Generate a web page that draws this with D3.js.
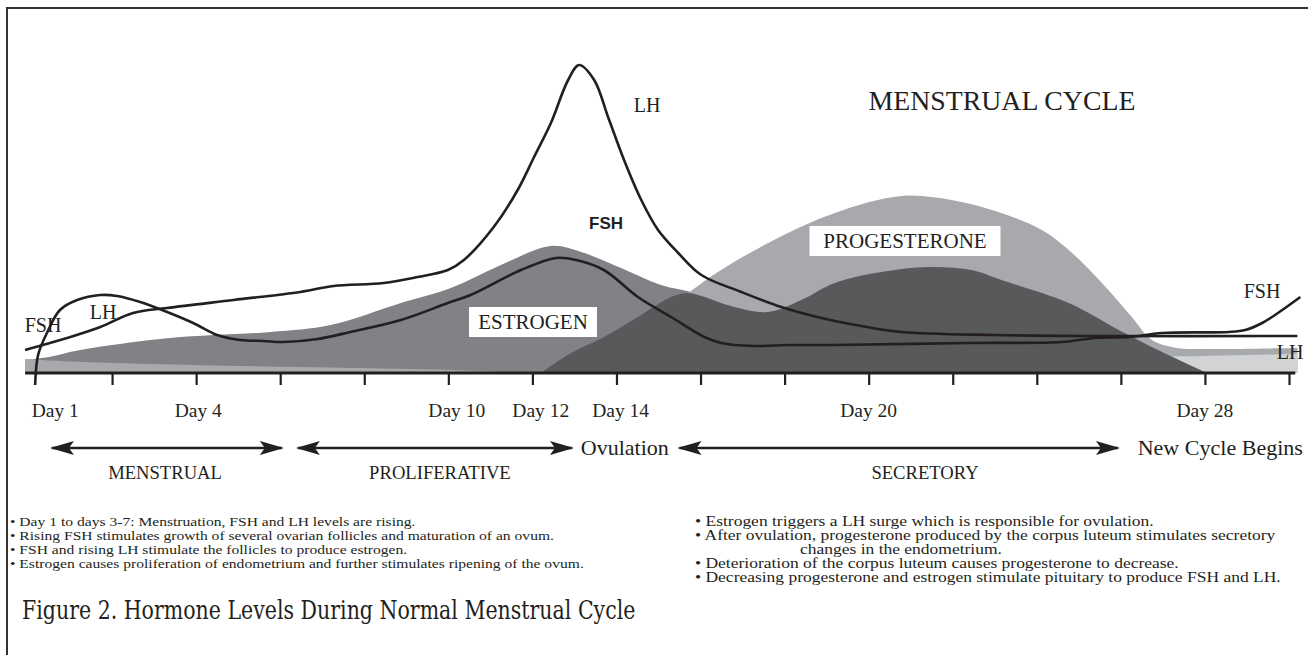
<!DOCTYPE html>
<html><head><meta charset="utf-8">
<script src="https://cdn.jsdelivr.net/npm/d3@7"></script>
<style>html,body{margin:0;padding:0;background:#fff;}svg{display:block;}</style>
</head><body>
<svg id="chart" width="1308" height="655"></svg>
<script>
// ---- data (x in cycle days, y in relative hormone level) ----
const fshDays   = [0.17,0.24,0.45,0.76,1.17,1.72,2.12,2.67,3.31,3.93,4.50,5.05,5.60,6.08,6.89,7.67,8.87,9.99,10.53,11.73,12.56,13.04,13.70,14.51,15.30,16.09,16.49,17.28,18.09,19.19,22.38,24.59,25.38,26.19,26.98,28.57,28.96,29.36,29.77,30.27];
const fshLevel  = [-12,18,40,63,73,78,77,71,61,50,38,33,32,31,34,41,53,70,78,103,115,113,103,76,56,36,30,27,28,28,30,31,35,36,40,41,43,50,61,76];
const lhDays    = [-0.07,0.93,1.72,2.50,3.31,4.89,6.48,7.27,8.46,9.27,9.99,10.37,11.08,11.65,12.04,12.44,12.85,13.11,13.47,13.80,14.18,14.59,14.99,15.47,16.02,16.97,17.92,18.88,19.83,20.78,23.0,25.55,30.2];
const lhLevel   = [23,35,46,60,65,73,81,87,90,96,103,113,146,183,216,250,293,308,293,256,213,173,143,120,98,81,66,55,47,41,38,37,37];
const estrogenDays  = [-0.07,0.5,1.24,3.38,5.77,7.20,8.87,10.06,11.25,12.44,13.16,14.11,15.06,15.78,16.49,18.4,20.8,23.2];
const estrogenLevel = [13,16,23,35,41,48,70,85,108,127,121,105,88,81,73,33,8,0];
const progPrevDays  = [-0.07,0.76,2.91,6.48,10.06,11.25,12.2];
const progPrevLevel = [14,12,9,6,3,1,0];
const progDays  = [12.68,14.59,15.71,16.49,17.61,19.19,20.78,21.97,23.16,24.12,24.76,25.55,26.26,26.74,27.34,27.93,30.2];
const progLevel = [0,43,80,103,130,160,177,173,160,143,123,90,56,33,25,24,25];
const nextDays  = [25.55,26.74,27.93,30.2];
const nextLevel = [0,15,17,19];
const luteDays  = [12.2,12.92,13.70,14.51,15.30,15.71,16.02,16.8,17.61,18.4,19.19,20.3,21.43,22.45,23.16,24.76,25.95,26.98,28.05];
const luteLevel = [0,20,36,56,76,80,77,66,61,73,90,101,106,103,93,70,43,21,0];
const tickDays = [2,4,6,8,10,12,14,16,18,20,22,24,26,28,30];
const tickLabels = ["Day 1","Day 4","Day 10","Day 12","Day 14","Day 20","Day 28"];
const tickLabelDays = [0.65,4.05,10.2,12.2,14.1,20,28];
const phaseNames = ["MENSTRUAL","PROLIFERATIVE","SECRETORY"];
const phaseStart = [0.57,6.42,15.5];
const phaseEnd   = [6.04,12.94,25.93];
const phaseLabelDays = [3.26,9.8,21.34];
const leftNotes = [
 "\u2022 Day 1 to days 3-7: Menstruation, FSH and LH levels are rising.",
 "\u2022 Rising FSH stimulates growth of several ovarian follicles and maturation of an ovum.",
 "\u2022 FSH and rising LH stimulate the follicles to produce estrogen.",
 "\u2022 Estrogen causes proliferation of endometrium and further stimulates ripening of the ovum."];
const rightNotes = [
 "\u2022 Estrogen triggers a LH surge which is responsible for ovulation.",
 "\u2022 After ovulation, progesterone produced by the corpus luteum stimulates secretory",
 "changes in the endometrium.",
 "\u2022 Deterioration of the corpus luteum causes progesterone to decrease.",
 "\u2022 Decreasing progesterone and estrogen stimulate pituitary to produce FSH and LH."];

// ---- drawing ----
const svg = d3.select("#chart");
const serif = "'Liberation Serif','Times New Roman',serif";
const ink = "#231f20";
const x = d3.scaleLinear().domain([0,30]).range([28,1289]);
const y = d3.scaleLinear().domain([0,310]).range([373,63]);
const zip = (a,b) => a.map((d,i)=>[d,b[i]]);
const curve = d3.curveCatmullRom.alpha(0.5);
const area = d3.area().x(d=>x(d[0])).y0(y(0)).y1(d=>y(d[1])).curve(curve);
const line = d3.line().x(d=>x(d[0])).y(d=>y(d[1])).curve(curve);

// frame
svg.append("path").attr("d","M7,655 L7,8 L1308,8").attr("fill","none").attr("stroke","#333").attr("stroke-width",2);

function txt(str, tx, ty, o={}) {
  return svg.append("text")
    .attr("transform",`translate(${tx},${ty}) scale(${o.sx||1},1)`)
    .attr("font-family", o.family||serif)
    .attr("font-size", o.size||18)
    .attr("font-weight", o.weight||"normal")
    .attr("text-anchor", o.anchor||"start")
    .attr("fill", ink)
    .text(str);
}

// areas
svg.append("path").attr("d",area(zip(estrogenDays,estrogenLevel))).attr("fill","#808285");
svg.append("path").attr("d",area(zip(progDays,progLevel))).attr("fill","#a7a9ac");
svg.append("path").attr("d",area(zip(progPrevDays,progPrevLevel))).attr("fill","#a7a9ac");
svg.append("path").attr("d",area(zip(nextDays,nextLevel))).attr("fill","#d1d3d4");
svg.append("path").attr("d",area(zip(luteDays,luteLevel))).attr("fill","#58595b");

// hormone lines
svg.append("path").attr("d",line(zip(fshDays,fshLevel))).attr("fill","none").attr("stroke",ink).attr("stroke-width",2.6);
svg.append("path").attr("d",line(zip(lhDays,lhLevel))).attr("fill","none").attr("stroke",ink).attr("stroke-width",2.6);

// axis
const axis = d3.axisBottom(x).tickValues(tickDays).tickSize(12).tickFormat("");
const ag = svg.append("g").attr("transform",`translate(0,${y(0)})`).call(axis);
ag.select(".domain").remove();
ag.selectAll(".tick line").attr("stroke",ink).attr("stroke-width",2.2);
svg.append("line").attr("x1",x(-0.07)).attr("x2",x(30.15)).attr("y1",y(0)).attr("y2",y(0)).attr("stroke",ink).attr("stroke-width",3);

tickLabels.forEach((s,i)=>txt(s, x(tickLabelDays[i]), 417, {anchor:"middle", size:19.5, sx:1.0}));

// labelled boxes
function boxLabel(str, cx, cy, w, h, size) {
  svg.append("rect").attr("x",cx-w/2).attr("y",cy-h/2).attr("width",w).attr("height",h).attr("fill","#fff");
  txt(str, cx, cy+7, {anchor:"middle", size:size, sx:1.0});
}
boxLabel("ESTROGEN", 533, 322, 128, 30, 21);
boxLabel("PROGESTERONE", 905, 241, 191, 30, 21);

// hormone name labels
txt("FSH", 43, 332, {anchor:"middle", size:20});
txt("LH", 103, 319, {anchor:"middle", size:20});
txt("LH", 647, 112, {anchor:"middle", size:20});
txt("FSH", 606, 229, {anchor:"middle", size:17, weight:"bold", family:"'Liberation Sans',Arial,sans-serif"});
txt("FSH", 1262, 298, {anchor:"middle", size:20});
txt("LH", 1290, 359, {anchor:"middle", size:20});
txt("MENSTRUAL CYCLE", 1002, 110, {anchor:"middle", size:27, sx:1.03});

// phase arrows
const defs = svg.append("defs");
["s","e"].forEach(k=>{
  defs.append("marker").attr("id","arr"+k).attr("markerUnits","userSpaceOnUse")
    .attr("viewBox","0 0 24 16").attr("refX", k==="e"?22:2).attr("refY",8)
    .attr("markerWidth",24).attr("markerHeight",16).attr("orient","auto")
    .append("path").attr("d", k==="e" ? "M0,1 L24,8 L0,15 L5,8 Z" : "M24,1 L0,8 L24,15 L19,8 Z")
    .attr("fill",ink);
});
phaseNames.forEach((n,i)=>{
  svg.append("line").attr("x1",x(phaseStart[i])).attr("x2",x(phaseEnd[i])).attr("y1",448).attr("y2",448)
    .attr("stroke",ink).attr("stroke-width",2.6).attr("marker-start","url(#arrs)").attr("marker-end","url(#arre)");
  txt(n, x(phaseLabelDays[i]), 479, {anchor:"middle", size:19, sx:0.98});
});
txt("Ovulation", x(13.15), 455, {size:21, sx:1.05});
txt("New Cycle Begins", x(26.4), 455, {size:21, sx:1.05});

// notes
leftNotes.forEach((s,i)=>txt(s, 10, 526 + i*14, {size:13.5, sx:1.155}));
rightNotes.forEach((s,i)=>txt(s, i===2 ? 800 : 695, 526 + i*14, {size:14, sx:1.25}));

// caption
txt("Figure 2. Hormone Levels During Normal Menstrual Cycle", 22, 619, {size:26, family:"'DejaVu Serif','Liberation Serif',serif", sx:0.79});
</script>
</body></html>
